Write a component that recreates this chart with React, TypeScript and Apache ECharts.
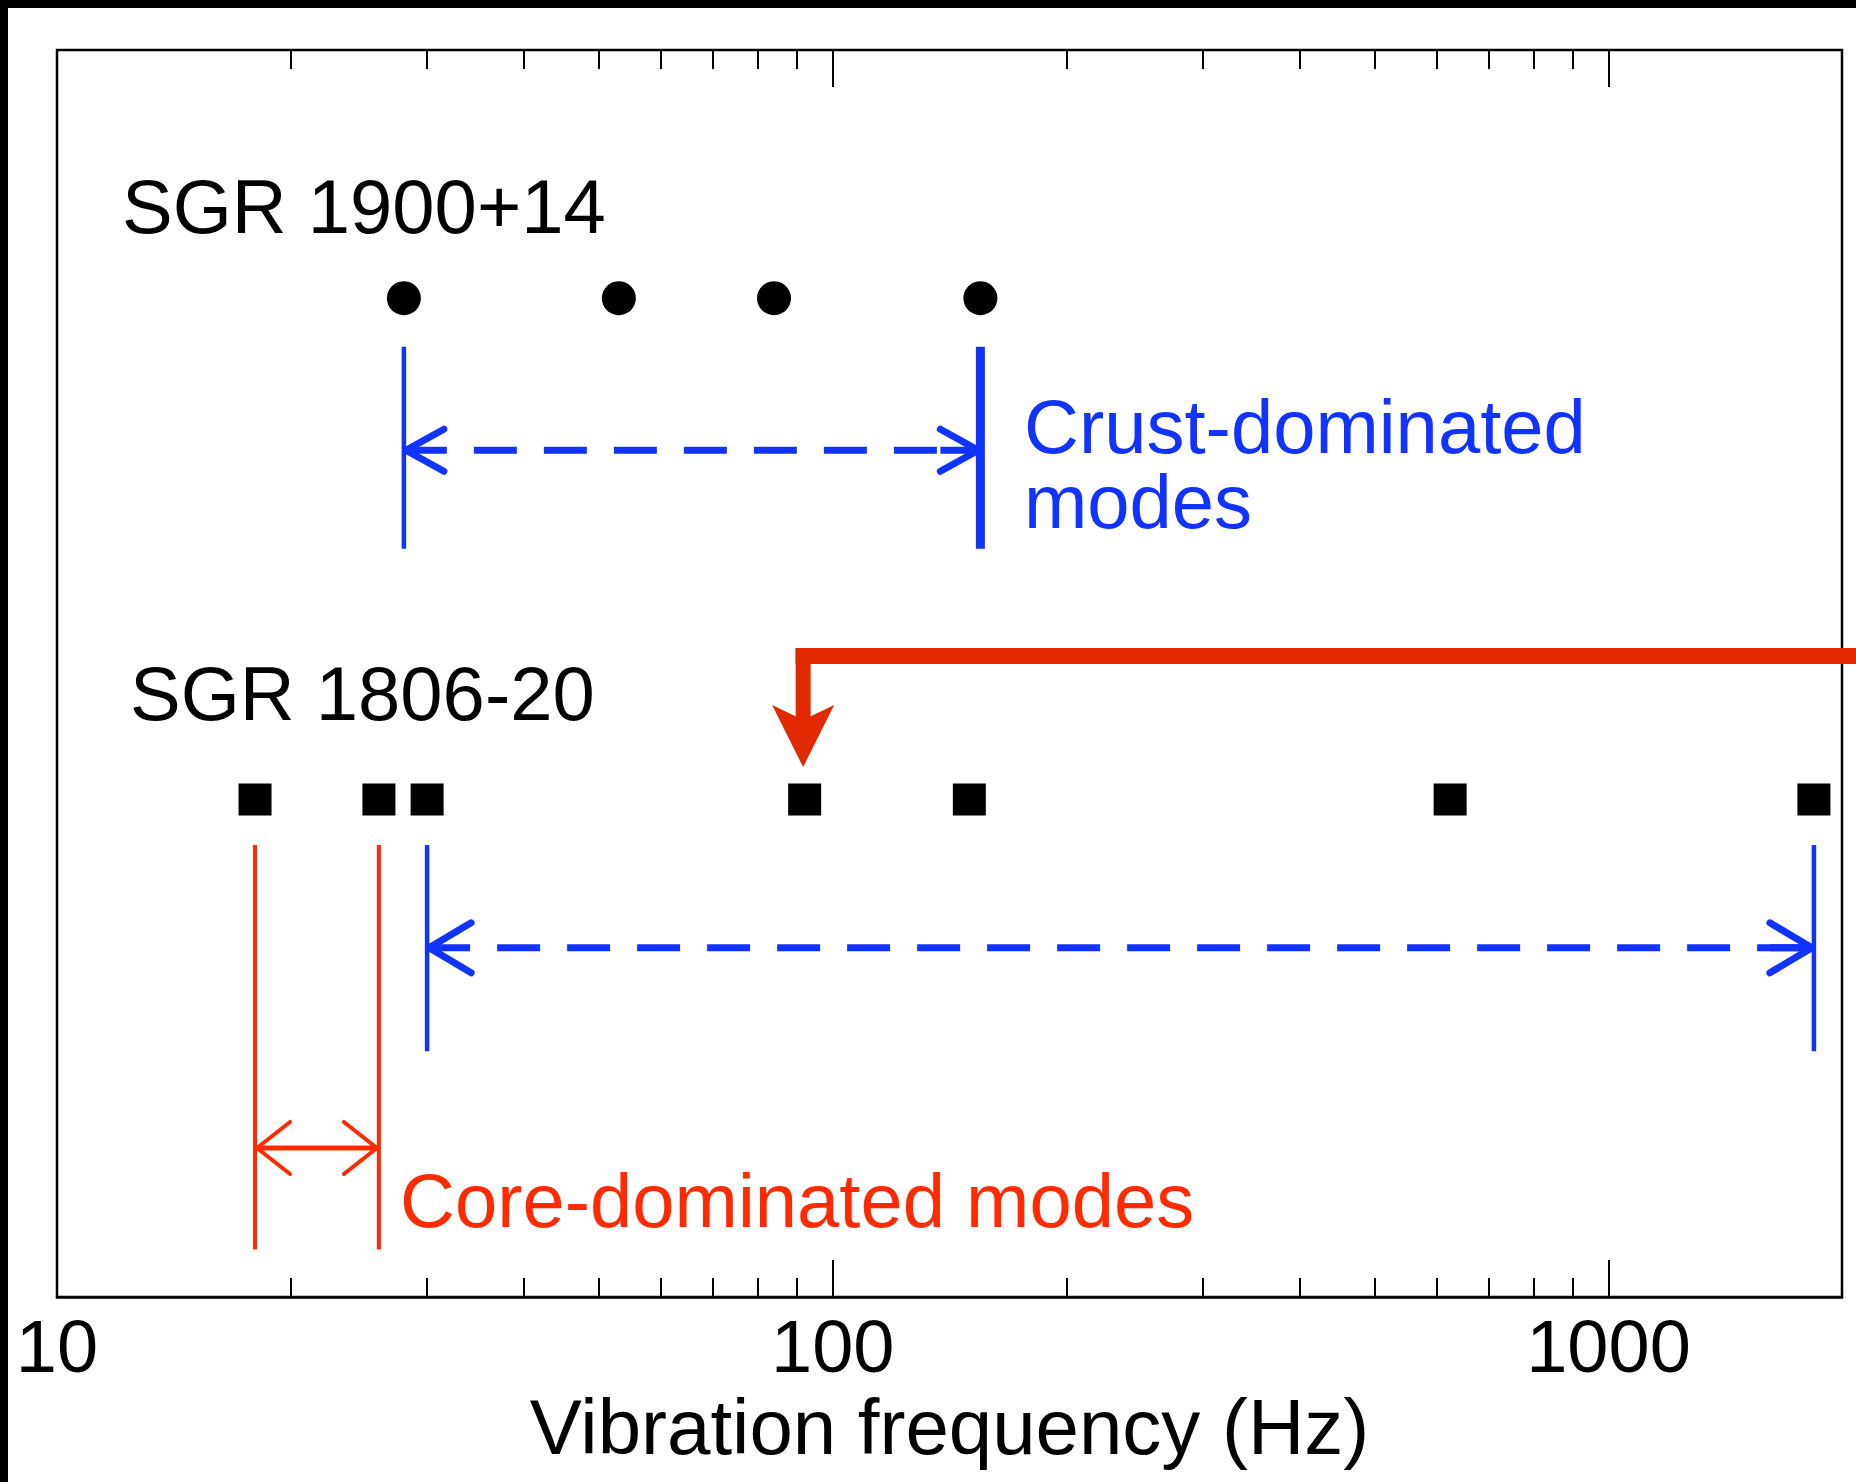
import React, { useEffect, useRef } from "react";
import * as echarts from "echarts";

// Frequencies (Hz)
const xTickLabels = [10, 100, 1000];
const xMinorTicks = [20, 30, 40, 50, 60, 70, 80, 90, 200, 300, 400, 500, 600, 700, 800, 900];
const sgr1900Freqs = [28, 53, 84, 155];
const sgr1806Freqs = [18, 26, 30, 92, 150, 625, 1840];
const crustRange1900 = [28, 155];
const crustRange1806 = [30, 1840];
const coreRange1806 = [18, 26];
const highlightedFreq = 92;

// Vertical rows on a hidden 0..100 axis (0 = top of plot)
const ROW_1900_POINTS = 19.9;
const ROW_1806_POINTS = 60.1;
const POINTER_BAR_ROW = 48.6;
const POINTER_TIP_ROW = 57.5;

const BLUE = "#1133ff";
const RED = "#ff2a00";
const RED_DARK = "#e22800";
const FONT = "'Liberation Sans', Arial, Helvetica, sans-serif";
const ANNOT_SIZE = 76;

const brackets = [
  { range: crustRange1900, top: 23.8, bottom: 40.0, mid: 32.1, color: BLUE, dashed: true, sideW: [4.5, 9], shaftW: 7, headLen: 40, headHalf: 21, headW: 7 },
  { range: crustRange1806, top: 63.75, bottom: 80.3, mid: 72.0, color: BLUE, dashed: true, sideW: [4.5, 4.5], shaftW: 7, headLen: 44, headHalf: 25, headW: 7 },
  { range: coreRange1806, top: 63.75, bottom: 96.2, mid: 88.05, color: RED, dashed: false, sideW: [4, 4], shaftW: 5, headLen: 35, headHalf: 26, headW: 4 },
];

const logAxisBase = { type: "log", logBase: 10, min: 10, max: 2000, gridIndex: 0 };

function tickAxis(position: string, values: number[], length: number) {
  return {
    ...logAxisBase,
    position,
    axisLine: { show: false, onZero: false },
    axisTick: { show: true, inside: true, length, lineStyle: { color: "#000", width: 2 }, customValues: values },
    axisLabel: { show: false },
    splitLine: { show: false },
    minorTick: { show: false },
  };
}

const option: any = {
  animation: false,
  backgroundColor: "#fff",
  grid: { left: 49, top: 42, right: 14, bottom: 185, show: true, borderColor: "#000", borderWidth: 2.5, backgroundColor: "#fff" },
  xAxis: [
    {
      ...logAxisBase,
      position: "bottom",
      name: "Vibration frequency (Hz)",
      nameLocation: "middle",
      nameGap: 89,
      nameTextStyle: { fontSize: 78, color: "#000", fontFamily: FONT },
      axisLine: { show: true, onZero: false, lineStyle: { color: "#000", width: 2.5 } },
      axisTick: { show: true, inside: true, length: 37, lineStyle: { color: "#000", width: 2 }, customValues: xTickLabels },
      axisLabel: { show: true, customValues: xTickLabels, margin: 12, fontSize: 74, color: "#000", fontFamily: FONT, formatter: (v: number) => String(Math.round(v)) },
      splitLine: { show: false },
      minorTick: { show: false },
      minorSplitLine: { show: false },
    },
    tickAxis("bottom", xMinorTicks, 19),
    tickAxis("top", xTickLabels, 37),
    tickAxis("top", xMinorTicks, 19),
  ],
  yAxis: { type: "value", min: 0, max: 100, inverse: true, show: false },
  series: [
    {
      type: "scatter",
      name: "SGR 1900+14",
      symbol: "circle",
      symbolSize: 34,
      itemStyle: { color: "#000", opacity: 1 },
      data: sgr1900Freqs.map((f) => [f, ROW_1900_POINTS]),
    },
    {
      type: "scatter",
      name: "SGR 1806-20",
      symbol: "rect",
      symbolSize: [33, 32],
      itemStyle: { color: "#000", opacity: 1 },
      data: sgr1806Freqs.map((f) => [f, ROW_1806_POINTS]),
    },
    {
      type: "custom",
      name: "mode ranges",
      clip: false,
      data: brackets.map((b) => [b.range[0], b.range[1]]),
      encode: { x: [0, 1] },
      renderItem: (params: any, api: any) => {
        const b = brackets[params.dataIndex];
        const [xL, yT] = api.coord([api.value(0), b.top]);
        const [xR, yB] = api.coord([api.value(1), b.bottom]);
        const yM = api.coord([api.value(0), b.mid])[1];
        const stroke = b.color;
        const children: any[] = [
          { type: "line", shape: { x1: xL, y1: yT, x2: xL, y2: yB }, style: { stroke, lineWidth: b.sideW[0] } },
          { type: "line", shape: { x1: xR, y1: yT, x2: xR, y2: yB }, style: { stroke, lineWidth: b.sideW[1] } },
          {
            type: "line",
            shape: { x1: xL, y1: yM, x2: xR, y2: yM },
            style: { stroke, lineWidth: b.shaftW, lineDash: b.dashed ? [43, 27] : null },
          },
          {
            type: "polyline",
            shape: { points: [[xL + b.headLen, yM - b.headHalf], [xL + 2, yM], [xL + b.headLen, yM + b.headHalf]] },
            style: { stroke, lineWidth: b.headW, fill: null, lineJoin: "round", lineCap: "round" },
          },
          {
            type: "polyline",
            shape: { points: [[xR - b.headLen, yM - b.headHalf], [xR - 2, yM], [xR - b.headLen, yM + b.headHalf]] },
            style: { stroke, lineWidth: b.headW, fill: null, lineJoin: "round", lineCap: "round" },
          },
        ];
        if (b.dashed) {
          children.push({ type: "line", shape: { x1: xR - b.headLen, y1: yM, x2: xR, y2: yM }, style: { stroke, lineWidth: b.shaftW } });
        }
        return { type: "group", children };
      },
    },
    {
      type: "custom",
      name: "highlight",
      clip: false,
      data: [[highlightedFreq, POINTER_TIP_ROW]],
      encode: { x: 0, y: 1 },
      renderItem: (_params: any, api: any) => {
        const [tipX, tipY] = api.coord([api.value(0), api.value(1)]);
        const barY = api.coord([api.value(0), POINTER_BAR_ROW])[1];
        const right = api.getWidth();
        const half = 8;
        const x0 = tipX - 9;
        return {
          type: "group",
          children: [
            { type: "rect", shape: { x: x0, y: barY - half, width: right - x0, height: half * 2 }, style: { fill: RED_DARK } },
            { type: "rect", shape: { x: x0, y: barY - half, width: 15, height: tipY - 44 - (barY - half) }, style: { fill: RED_DARK } },
            {
              type: "polygon",
              shape: { points: [[x0 + 7.5, tipY], [x0 + 7.5 - 31, tipY - 62], [x0 + 7.5, tipY - 47], [x0 + 7.5 + 31, tipY - 62]] },
              style: { fill: RED_DARK },
            },
          ],
        };
      },
    },
  ],
  graphic: [
    {
      type: "text",
      x: 114,
      y: 198,
      style: { text: "SGR 1900+14", fontSize: ANNOT_SIZE, fontFamily: FONT, fill: "#000", textAlign: "left", align: "left", textVerticalAlign: "middle", verticalAlign: "middle" },
    },
    {
      type: "text",
      x: 122,
      y: 685,
      style: { text: "SGR 1806-20", fontSize: ANNOT_SIZE, fontFamily: FONT, fill: "#000", textAlign: "left", align: "left", textVerticalAlign: "middle", verticalAlign: "middle" },
    },
    {
      type: "text",
      x: 1016,
      y: 381,
      style: { text: "Crust-dominated\nmodes", fontSize: ANNOT_SIZE, lineHeight: 75, fontFamily: FONT, fill: BLUE, textAlign: "left", align: "left", textVerticalAlign: "top", verticalAlign: "top" },
    },
    {
      type: "text",
      x: 392,
      y: 1192,
      style: { text: "Core-dominated modes", fontSize: ANNOT_SIZE, fontFamily: FONT, fill: RED, textAlign: "left", align: "left", textVerticalAlign: "middle", verticalAlign: "middle" },
    },
  ],
};

export default function App() {
  const ref = useRef<HTMLDivElement>(null);
  useEffect(() => {
    if (!ref.current) return;
    const chart = echarts.init(ref.current, null, { renderer: "svg" });
    chart.setOption(option);
    return () => chart.dispose();
  }, []);
  return (
    <div style={{ position: "fixed", left: 0, top: 0, width: 1856, height: 1482, background: "#000", overflow: "hidden" }}>
      <div ref={ref} style={{ position: "absolute", left: 8, top: 8, width: 1848, height: 1474, background: "#fff" }} />
    </div>
  );
}
